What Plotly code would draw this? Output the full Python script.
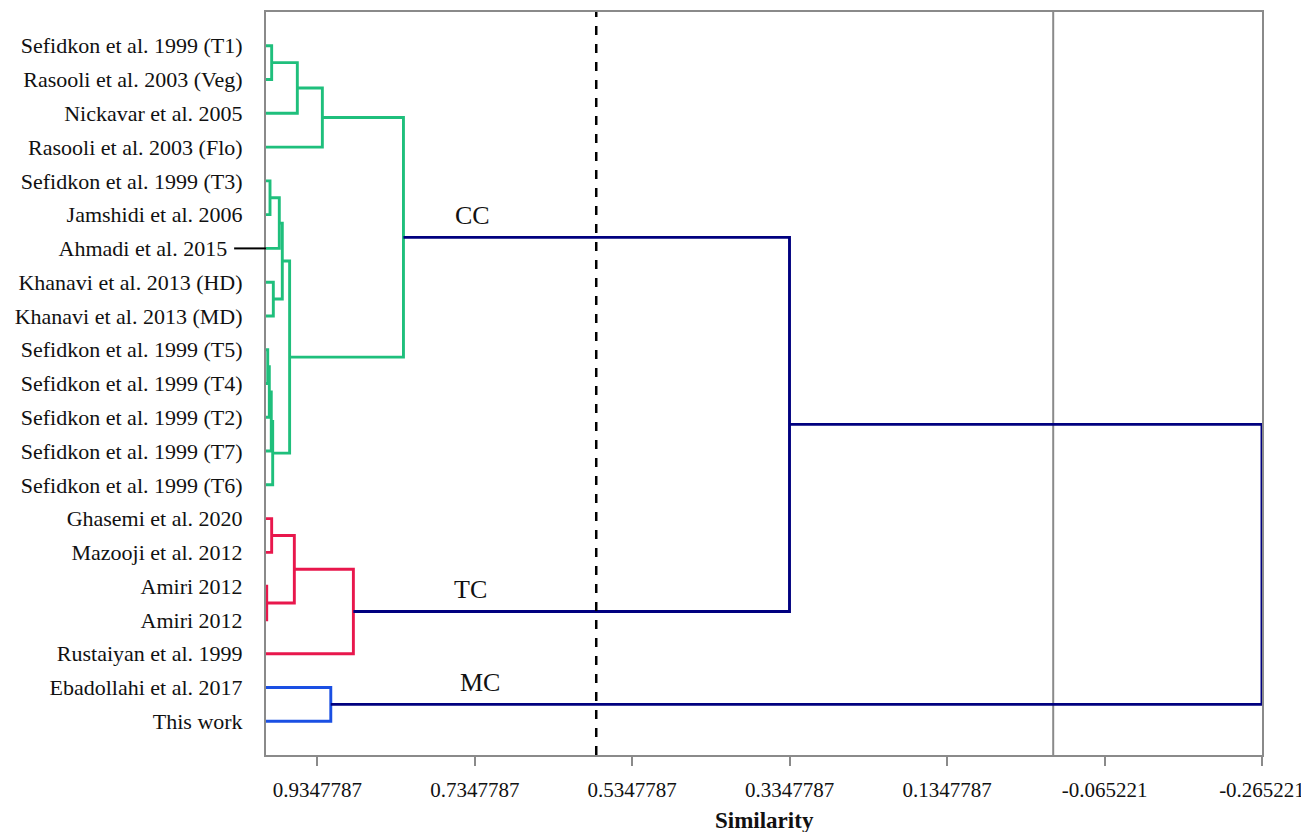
import plotly.graph_objects as go

# ---------------- data ----------------
labels = [
    "Sefidkon et al. 1999 (T1)",
    "Rasooli et al. 2003 (Veg)",
    "Nickavar et al. 2005",
    "Rasooli et al. 2003 (Flo)",
    "Sefidkon et al. 1999 (T3)",
    "Jamshidi et al. 2006",
    "Ahmadi et al. 2015",
    "Khanavi et al. 2013 (HD)",
    "Khanavi et al. 2013 (MD)",
    "Sefidkon et al. 1999 (T5)",
    "Sefidkon et al. 1999 (T4)",
    "Sefidkon et al. 1999 (T2)",
    "Sefidkon et al. 1999 (T7)",
    "Sefidkon et al. 1999 (T6)",
    "Ghasemi et al. 2020",
    "Mazooji et al. 2012",
    "Amiri 2012",
    "Amiri 2012",
    "Rustaiyan et al. 1999",
    "Ebadollahi et al. 2017",
    "This work",
]

# merges: (child a, child b, similarity at which they join, group)
merge_a = ["L0", "c0", "c1", "L4", "c3", "L7", "c4", "L9", "c7", "c8", "c9", "c6", "c2",
           "L14", "L16", "c13", "c15", "L19", "c12", "c18"]
merge_b = ["L1", "L2", "L3", "L5", "L6", "L8", "c5", "L10", "L11", "L12", "L13", "c10", "c11",
           "L15", "L17", "c14", "L18", "L20", "c16", "c17"]
merge_sim = [0.9928, 0.9602, 0.9284, 0.9949, 0.9831, 0.9907, 0.9793, 0.9978, 0.9958, 0.9933,
             0.9915, 0.9700, 0.8254, 0.9928, 0.9991, 0.9640, 0.8890, 0.9177, 0.3350, -0.2652]
merge_group = ["CC"] * 13 + ["TC"] * 4 + ["MC"] + ["root"] * 2

cluster_names = ["CC", "TC", "MC"]
cluster_label_sim = [0.738, 0.740, 0.728]
cut_similarity = 0.5805
zero_line = 0.0
marked_leaf = 6  # leaf with a black stub to the axis

tick_vals = [0.9347787, 0.7347787, 0.5347787, 0.3347787, 0.1347787, -0.065221, -0.265221]
tick_text = ["0.9347787", "0.7347787", "0.5347787", "0.3347787", "0.1347787", "-0.065221", "-0.265221"]
x_max, x_min = 1.0, -0.265221

colors = {"CC": "#1fbf7c", "TC": "#e8174c", "MC": "#1a4fe3", "root": "#00007f"}

# ---------------- dendrogram geometry ----------------
pos = {}  # id -> (x, y)
for i in range(len(labels)):
    pos[f"L{i}"] = (x_max, i)

segs = {g: ([], []) for g in colors}
for k, (a, b, s, g) in enumerate(zip(merge_a, merge_b, merge_sim, merge_group)):
    xa, ya = pos[a]
    xb, yb = pos[b]
    xs, ys = segs[g]
    xs += [xa, s, s, xb, None]
    ys += [ya, ya, yb, yb, None]
    pos[f"c{k}"] = (s, (ya + yb) / 2)

fig = go.Figure()
for g in ["CC", "TC", "MC", "root"]:
    xs, ys = segs[g]
    fig.add_trace(go.Scatter(x=xs, y=ys, mode="lines",
                             line=dict(color=colors[g], width=2.9),
                             hoverinfo="skip", showlegend=False))

# reference lines
fig.add_shape(type="line", xref="x", yref="paper", x0=zero_line, x1=zero_line, y0=0, y1=1,
              line=dict(color="#8a8a8a", width=2), layer="below")
fig.add_shape(type="line", xref="x", yref="paper", x0=cut_similarity, x1=cut_similarity, y0=0, y1=1,
              line=dict(color="black", width=2.5, dash="dash"))
# stub on the marked leaf label
fig.add_shape(type="line", xref="paper", yref="y", x0=-0.032, x1=0, y0=marked_leaf, y1=marked_leaf,
              line=dict(color="black", width=2))

# cluster labels
node_y = {"CC": pos["c12"][1], "TC": pos["c16"][1], "MC": pos["c17"][1]}
for name, xs in zip(cluster_names, cluster_label_sim):
    fig.add_annotation(x=xs, y=node_y[name], text=name, showarrow=False,
                       yanchor="bottom", yshift=5,
                       font=dict(family="Liberation Serif", size=26, color="#111"))

# axis title
fig.add_annotation(xref="paper", yref="paper", x=0.5, y=-0.0875, yanchor="middle",
                   text="<b>Similarity</b>", showarrow=False,
                   font=dict(size=23, family="Liberation Serif", color="#111"))

tick_labels = [lab + ("\u2002\u2009" if i == marked_leaf else "") for i, lab in enumerate(labels)]

fig.update_layout(
    width=1301, height=824,
    margin=dict(l=258, r=47, t=4, b=77),
    paper_bgcolor="white", plot_bgcolor="white",
    font=dict(family="Liberation Serif", color="#111"),
)
fig.update_xaxes(
    range=[x_max, x_min], tickvals=tick_vals, ticktext=tick_text,
    showgrid=False, zeroline=False, showline=True, mirror=True,
    linecolor="#8a8a8a", linewidth=2, automargin=False,
    ticks="outside", ticklen=9, tickwidth=1.5, tickcolor="#8a8a8a",
    ticklabelstandoff=6,
    tickfont=dict(size=21, family="Liberation Serif", color="#111"),
)
fig.update_yaxes(
    range=[len(labels), -1], tickvals=list(range(len(labels))), ticktext=tick_labels,
    showgrid=False, zeroline=False, showline=True, mirror=True,
    linecolor="#8a8a8a", linewidth=2, ticks="", automargin=False,
    ticklabelstandoff=17,
    tickfont=dict(size=22, family="Liberation Serif", color="#111"),
)

fig.write_html("out.html")
